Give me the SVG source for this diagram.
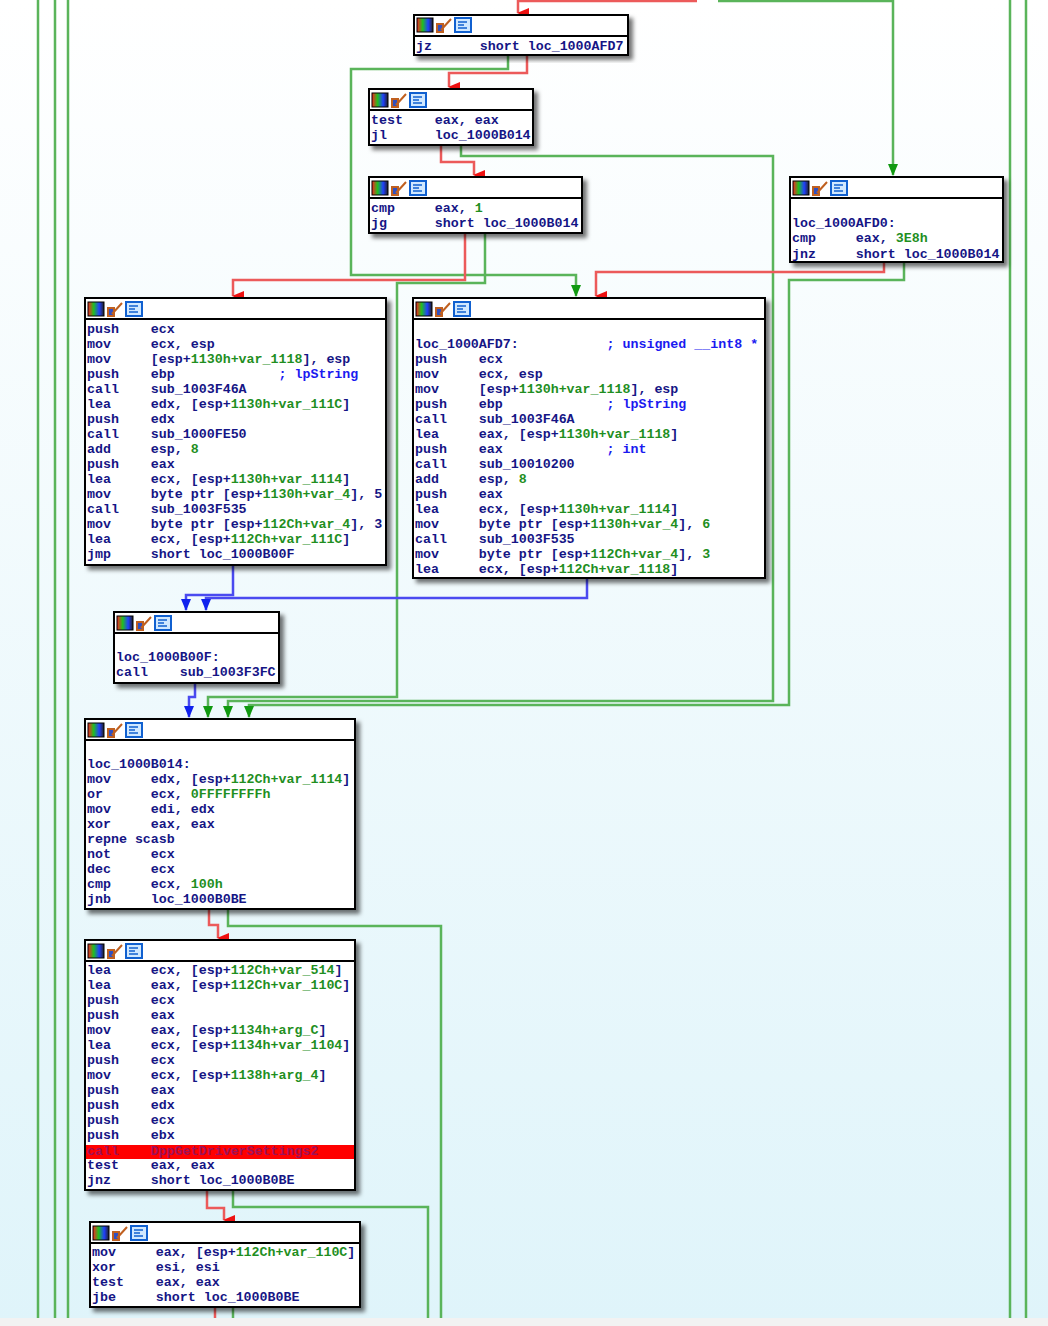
<svg xmlns="http://www.w3.org/2000/svg" width="1048" height="1326" viewBox="0 0 1048 1326">
<defs>
<linearGradient id="bg" x1="0" y1="0" x2="0" y2="1"><stop offset="0" stop-color="#ffffff"/><stop offset="1" stop-color="#dff4fa"/></linearGradient>
<linearGradient id="ic1" x1="0" y1="0" x2="1" y2="0"><stop offset="0" stop-color="#ff2020"/><stop offset="0.35" stop-color="#20c020"/><stop offset="0.7" stop-color="#2040ff"/><stop offset="1" stop-color="#202020"/></linearGradient>
<filter id="sh" x="-10%" y="-10%" width="120%" height="130%"><feDropShadow dx="4" dy="4" stdDeviation="2" flood-color="#000" flood-opacity="0.55"/></filter>
<marker id="ar" markerWidth="10" markerHeight="12" refX="5" refY="11" orient="auto-start-reverse" markerUnits="userSpaceOnUse" viewBox="0 0 10 12"><path d="M0,0 L10,0 L5,12 z" fill="#ee1111" transform="rotate(0)"/></marker>
<marker id="ag" markerWidth="10" markerHeight="12" refX="5" refY="11" markerUnits="userSpaceOnUse" viewBox="0 0 10 12"><path d="M0,0 L10,0 L5,12 z" fill="#119911"/></marker>
<marker id="ab" markerWidth="10" markerHeight="12" refX="5" refY="11" markerUnits="userSpaceOnUse" viewBox="0 0 10 12"><path d="M0,0 L10,0 L5,12 z" fill="#1122ee"/></marker>
<g id="icons"><rect x="0" y="0" width="16" height="14" fill="url(#ic1)" stroke="#000" stroke-width="1"/><path d="M20,14 L20,6 L26,6 L26,14 z M24,12 L34,1" fill="#3050c0" stroke="#c06020" stroke-width="2"/><rect x="38" y="0" width="16" height="14" fill="#d0e8ff" stroke="#1060d0" stroke-width="2"/><path d="M41,4 h9 M41,7 h6 M41,10 h9" stroke="#1060d0" stroke-width="1.5"/></g>
</defs>
<style>
.box{fill:#fff;stroke:#000;stroke-width:2;filter:url(#sh)}
.sep{stroke:#000;stroke-width:2}
text{font-family:"Liberation Mono","DejaVu Sans Mono",monospace;font-size:13.3px;font-weight:bold;fill:#151585;white-space:pre}
.g{fill:#1f8f1f}.c{fill:#1a1af0}
.lr{fill:none;stroke:#ec5a5a;stroke-width:2.5}
.lg{fill:none;stroke:#5ab45a;stroke-width:2.5}
.lb{fill:none;stroke:#4a4af0;stroke-width:2.5}
</style>
<rect width="1048" height="1326" fill="url(#bg)"/>
<rect y="1318" width="1048" height="8" fill="#f2f2f2"/>
<g id="connectors">
<path class="lg" d="M38,0 V1318 M55,0 V1318 M68,0 V1318 M1010,0 V1318 M1026,0 V1318"/>
<path class="lr" d="M697,1 H518 V13" marker-end="url(#ar)"/>
<path class="lg" d="M718,1 H893 V175" marker-end="url(#ag)"/>
<path class="lg" d="M508,56 V69 H351 V275 H576 V296" marker-end="url(#ag)"/>
<path class="lr" d="M527,56 V73 H449 V87" marker-end="url(#ar)"/>
<path class="lr" d="M441,146 V162 H474 V175" marker-end="url(#ar)"/>
<path class="lg" d="M461,146 V156 H773 V701 H228 V717" marker-end="url(#ag)"/>
<path class="lr" d="M465,234 V280 H233 V296" marker-end="url(#ar)"/>
<path class="lg" d="M485,234 V283 H397 V697 H208 V717" marker-end="url(#ag)"/>
<path class="lr" d="M884,263 V272 H596 V296" marker-end="url(#ar)"/>
<path class="lg" d="M904,263 V280 H789 V705 H249 V717" marker-end="url(#ag)"/>
<path class="lb" d="M233,566 V595 H186 V610" marker-end="url(#ab)"/>
<path class="lb" d="M587,579 V598 H206 V610" marker-end="url(#ab)"/>
<path class="lb" d="M195,684 V697 H189 V717" marker-end="url(#ab)"/>
<path class="lr" d="M209,910 V925 H218 V938" marker-end="url(#ar)"/>
<path class="lg" d="M228,910 V926 H441 V1318"/>
<path class="lr" d="M207,1191 V1208 H224 V1220" marker-end="url(#ar)"/>
<path class="lg" d="M233,1191 V1207 H428 V1318"/>
<path class="lr" d="M215,1308 V1318"/>
<path class="lg" d="M233,1308 V1318"/>
</g>
<g id="n1"><rect class="box" x="414" y="15" width="214" height="40"/><line class="sep" x1="414" y1="36" x2="628" y2="36"/><use href="#icons" x="417" y="18"/>
<text x="416" y="50">jz      short loc_1000AFD7</text></g>
<g id="n2"><rect class="box" x="369" y="89" width="164" height="56"/><line class="sep" x1="369" y1="110" x2="533" y2="110"/><use href="#icons" x="372" y="93"/>
<text x="371" y="124">test    eax, eax</text><text x="371" y="139">jl      loc_1000B014</text></g>
<g id="n3"><rect class="box" x="369" y="177" width="213" height="56"/><line class="sep" x1="369" y1="198" x2="582" y2="198"/><use href="#icons" x="372" y="181"/>
<text x="371" y="212">cmp     eax, <tspan class="g">1</tspan></text><text x="371" y="227">jg      short loc_1000B014</text></g>
<g id="n4"><rect class="box" x="790" y="177" width="213" height="85"/><line class="sep" x1="790" y1="198" x2="1003" y2="198"/><use href="#icons" x="793" y="181"/>
<text x="792" y="227">loc_1000AFD0:</text><text x="792" y="242">cmp     eax, <tspan class="g">3E8h</tspan></text><text x="792" y="258">jnz     short loc_1000B014</text></g>
<g id="n5"><rect class="box" x="85" y="298" width="301" height="267"/><line class="sep" x1="85" y1="319" x2="386" y2="319"/><use href="#icons" x="88" y="302"/>
<text x="87" y="333">push    ecx</text>
<text x="87" y="348">mov     ecx, esp</text>
<text x="87" y="363">mov     [esp+<tspan class="g">1130h+var_1118</tspan>], esp</text>
<text x="87" y="378">push    ebp             <tspan class="c">; lpString</tspan></text>
<text x="87" y="393">call    sub_1003F46A</text>
<text x="87" y="408">lea     edx, [esp+<tspan class="g">1130h+var_111C</tspan>]</text>
<text x="87" y="423">push    edx</text>
<text x="87" y="438">call    sub_1000FE50</text>
<text x="87" y="453">add     esp, <tspan class="g">8</tspan></text>
<text x="87" y="468">push    eax</text>
<text x="87" y="483">lea     ecx, [esp+<tspan class="g">1130h+var_1114</tspan>]</text>
<text x="87" y="498">mov     byte ptr [esp+<tspan class="g">1130h+var_4</tspan>], 5</text>
<text x="87" y="513">call    sub_1003F535</text>
<text x="87" y="528">mov     byte ptr [esp+<tspan class="g">112Ch+var_4</tspan>], 3</text>
<text x="87" y="543">lea     ecx, [esp+<tspan class="g">112Ch+var_111C</tspan>]</text>
<text x="87" y="558">jmp     short loc_1000B00F</text></g>
<g id="n6"><rect class="box" x="413" y="298" width="352" height="280"/><line class="sep" x1="413" y1="319" x2="765" y2="319"/><use href="#icons" x="416" y="302"/>
<text x="415" y="348">loc_1000AFD7:           <tspan class="c">; unsigned __int8 *</tspan></text>
<text x="415" y="363">push    ecx</text>
<text x="415" y="378">mov     ecx, esp</text>
<text x="415" y="393">mov     [esp+<tspan class="g">1130h+var_1118</tspan>], esp</text>
<text x="415" y="408">push    ebp             <tspan class="c">; lpString</tspan></text>
<text x="415" y="423">call    sub_1003F46A</text>
<text x="415" y="438">lea     eax, [esp+<tspan class="g">1130h+var_1118</tspan>]</text>
<text x="415" y="453">push    eax             <tspan class="c">; int</tspan></text>
<text x="415" y="468">call    sub_10010200</text>
<text x="415" y="483">add     esp, <tspan class="g">8</tspan></text>
<text x="415" y="498">push    eax</text>
<text x="415" y="513">lea     ecx, [esp+<tspan class="g">1130h+var_1114</tspan>]</text>
<text x="415" y="528">mov     byte ptr [esp+<tspan class="g">1130h+var_4</tspan>], <tspan class="g">6</tspan></text>
<text x="415" y="543">call    sub_1003F535</text>
<text x="415" y="558">mov     byte ptr [esp+<tspan class="g">112Ch+var_4</tspan>], <tspan class="g">3</tspan></text>
<text x="415" y="573">lea     ecx, [esp+<tspan class="g">112Ch+var_1118</tspan>]</text></g>
<g id="n7"><rect class="box" x="114" y="612" width="165" height="71"/><line class="sep" x1="114" y1="633" x2="279" y2="633"/><use href="#icons" x="117" y="616"/>
<text x="116" y="661">loc_1000B00F:</text><text x="116" y="676">call    sub_1003F3FC</text></g>
<g id="n8"><rect class="box" x="85" y="719" width="270" height="190"/><line class="sep" x1="85" y1="740" x2="355" y2="740"/><use href="#icons" x="88" y="723"/>
<text x="87" y="768">loc_1000B014:</text>
<text x="87" y="783">mov     edx, [esp+<tspan class="g">112Ch+var_1114</tspan>]</text>
<text x="87" y="798">or      ecx, <tspan class="g">0FFFFFFFFh</tspan></text>
<text x="87" y="813">mov     edi, edx</text>
<text x="87" y="828">xor     eax, eax</text>
<text x="87" y="843">repne scasb</text>
<text x="87" y="858">not     ecx</text>
<text x="87" y="873">dec     ecx</text>
<text x="87" y="888">cmp     ecx, <tspan class="g">100h</tspan></text>
<text x="87" y="903">jnb     loc_1000B0BE</text></g>
<g id="n9"><rect class="box" x="85" y="940" width="270" height="250"/><line class="sep" x1="85" y1="961" x2="355" y2="961"/><use href="#icons" x="88" y="944"/>
<rect x="86" y="1145" width="268" height="14" fill="#ff0000"/>
<text x="87" y="974">lea     ecx, [esp+<tspan class="g">112Ch+var_514</tspan>]</text>
<text x="87" y="989">lea     eax, [esp+<tspan class="g">112Ch+var_110C</tspan>]</text>
<text x="87" y="1004">push    ecx</text>
<text x="87" y="1019">push    eax</text>
<text x="87" y="1034">mov     eax, [esp+<tspan class="g">1134h+arg_C</tspan>]</text>
<text x="87" y="1049">lea     ecx, [esp+<tspan class="g">1134h+var_1104</tspan>]</text>
<text x="87" y="1064">push    ecx</text>
<text x="87" y="1079">mov     ecx, [esp+<tspan class="g">1138h+arg_4</tspan>]</text>
<text x="87" y="1094">push    eax</text>
<text x="87" y="1109">push    edx</text>
<text x="87" y="1124">push    ecx</text>
<text x="87" y="1139">push    ebx</text>
<text x="87" y="1155" fill="#a0105a" style="fill:#a0105a">call    DppGetDriverSettings2</text>
<text x="87" y="1169">test    eax, eax</text>
<text x="87" y="1184">jnz     short loc_1000B0BE</text></g>
<g id="n10"><rect class="box" x="90" y="1222" width="270" height="85"/><line class="sep" x1="90" y1="1243" x2="360" y2="1243"/><use href="#icons" x="93" y="1226"/>
<text x="92" y="1256">mov     eax, [esp+<tspan class="g">112Ch+var_110C</tspan>]</text>
<text x="92" y="1271">xor     esi, esi</text>
<text x="92" y="1286">test    eax, eax</text>
<text x="92" y="1301">jbe     short loc_1000B0BE</text></g>
</svg>
